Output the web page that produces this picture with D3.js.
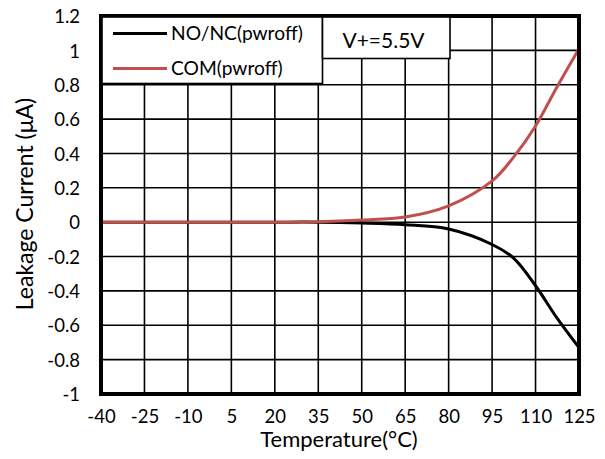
<!DOCTYPE html>
<html>
<head>
<meta charset="utf-8">
<script src="https://cdn.jsdelivr.net/npm/d3@7"></script>
<style>
  html, body { margin: 0; padding: 0; background: #fff; }
  svg { display: block; font-family: Lato, "Open Sans", sans-serif; }
</style>
</head>
<body>
<svg id="chart" width="605" height="459"></svg>
<script>
// Leakage current vs temperature, power-off condition
const temperatures = [-40, -25, -10, 5, 20, 35, 50, 65, 80, 95, 102.5, 110, 117.5, 125];
const noNcLeak = [0, 0, 0, 0, 0, 0, -0.005, -0.015, -0.04, -0.13, -0.21, -0.37, -0.56, -0.73];
const comLeak = [0, 0, 0, 0, 0, 0.002, 0.012, 0.03, 0.095, 0.24, 0.38, 0.56, 0.79, 1.01];
const xTicks = [-40, -25, -10, 5, 20, 35, 50, 65, 80, 95, 110, 125];
const yTicks = [1.2, 1, 0.8, 0.6, 0.4, 0.2, 0, -0.2, -0.4, -0.6, -0.8, -1];
const seriesNames = ["NO/NC(pwroff)", "COM(pwroff)"];
const seriesColors = ["#000000", "#c0504d"];
const noteText = "V+=5.5V";

const svg = d3.select("#chart");
const plot = { left: 101, right: 579, top: 16, bottom: 394 };

const x = d3.scaleLinear().domain([-40, 125]).range([plot.left, plot.right]);
const y = d3.scaleLinear().domain([-1, 1.2]).range([plot.bottom, plot.top]);

// plain hyphen-minus labels
const plain = d => String(d);

// grid
const grid = svg.append("g");
grid.selectAll("line.v").data(xTicks).join("line")
  .attr("x1", d => x(d)).attr("x2", d => x(d))
  .attr("y1", plot.top).attr("y2", plot.bottom)
  .attr("stroke", "#000").attr("stroke-width", 1.6);
grid.selectAll("line.h").data(yTicks).join("line")
  .attr("y1", d => y(d)).attr("y2", d => y(d))
  .attr("x1", plot.left).attr("x2", plot.right)
  .attr("stroke", "#000").attr("stroke-width", 1.6);

// axis tick labels
const xAxis = d3.axisBottom(x).tickValues(xTicks).tickSize(0).tickPadding(0).tickFormat(plain);
const gx = svg.append("g").attr("transform", `translate(0,423)`).call(xAxis);
gx.select(".domain").remove();
gx.selectAll("text").attr("font-size", 18.5).attr("font-family", "Lato").attr("fill", "#000")
  .attr("dy", null).attr("y", 0);

const yAxis = d3.axisLeft(y).tickValues(yTicks).tickSize(0).tickPadding(0).tickFormat(plain);
const gy = svg.append("g").attr("transform", `translate(80,0)`).call(yAxis);
gy.select(".domain").remove();
gy.selectAll("text").attr("font-size", 18.5).attr("font-family", "Lato").attr("fill", "#000")
  .attr("dy", "0.36em").attr("x", 0);

// series
const line = d3.line().curve(d3.curveCatmullRom.alpha(0.5))
  .x(d => x(d[0])).y(d => y(d[1]));
const series = [noNcLeak, comLeak];
series.forEach((vals, i) => {
  svg.append("path")
    .datum(temperatures.map((t, j) => [t, vals[j]]))
    .attr("d", line)
    .attr("fill", "none")
    .attr("stroke", seriesColors[i])
    .attr("stroke-width", 3)
    .attr("stroke-linejoin", "round");
});

// plot border
svg.append("rect")
  .attr("x", plot.left).attr("y", plot.top)
  .attr("width", plot.right - plot.left).attr("height", plot.bottom - plot.top)
  .attr("fill", "none").attr("stroke", "#000").attr("stroke-width", 4);

// legend
const legend = svg.append("g");
legend.append("rect")
  .attr("x", plot.left + 1).attr("y", plot.top + 1)
  .attr("width", 322.5 - plot.left - 1).attr("height", 83.5 - plot.top - 1)
  .attr("fill", "#fff").attr("stroke", "#000").attr("stroke-width", 1.6);
seriesNames.forEach((name, i) => {
  const cy = 33.5 + i * 35;
  legend.append("line")
    .attr("x1", 113).attr("x2", 167).attr("y1", cy).attr("y2", cy)
    .attr("stroke", seriesColors[i]).attr("stroke-width", 3);
  legend.append("text")
    .attr("x", 171).attr("y", cy).attr("dy", "0.36em")
    .attr("font-size", 19.2).attr("fill", "#000")
    .text(name);
});

// supply voltage note
const note = svg.append("g");
note.append("rect")
  .attr("x", 322.5).attr("y", plot.top + 1)
  .attr("width", 450 - 322.5).attr("height", 58.5 - plot.top - 1)
  .attr("fill", "#fff").attr("stroke", "#000").attr("stroke-width", 1.6);
note.append("text")
  .attr("x", 383.5).attr("y", 40).attr("dy", "0.36em")
  .attr("text-anchor", "middle").attr("font-size", 21).attr("fill", "#000")
  .text(noteText);

// axis titles
svg.append("text")
  .attr("x", 339).attr("y", 447)
  .attr("text-anchor", "middle").attr("font-size", 22).attr("fill", "#000")
  .text("Temperature(°C)");
svg.append("text")
  .attr("transform", "translate(33,204) rotate(-90)")
  .attr("text-anchor", "middle").attr("font-size", 23).attr("fill", "#000")
  .text("Leakage Current (μA)");
</script>
</body>
</html>
